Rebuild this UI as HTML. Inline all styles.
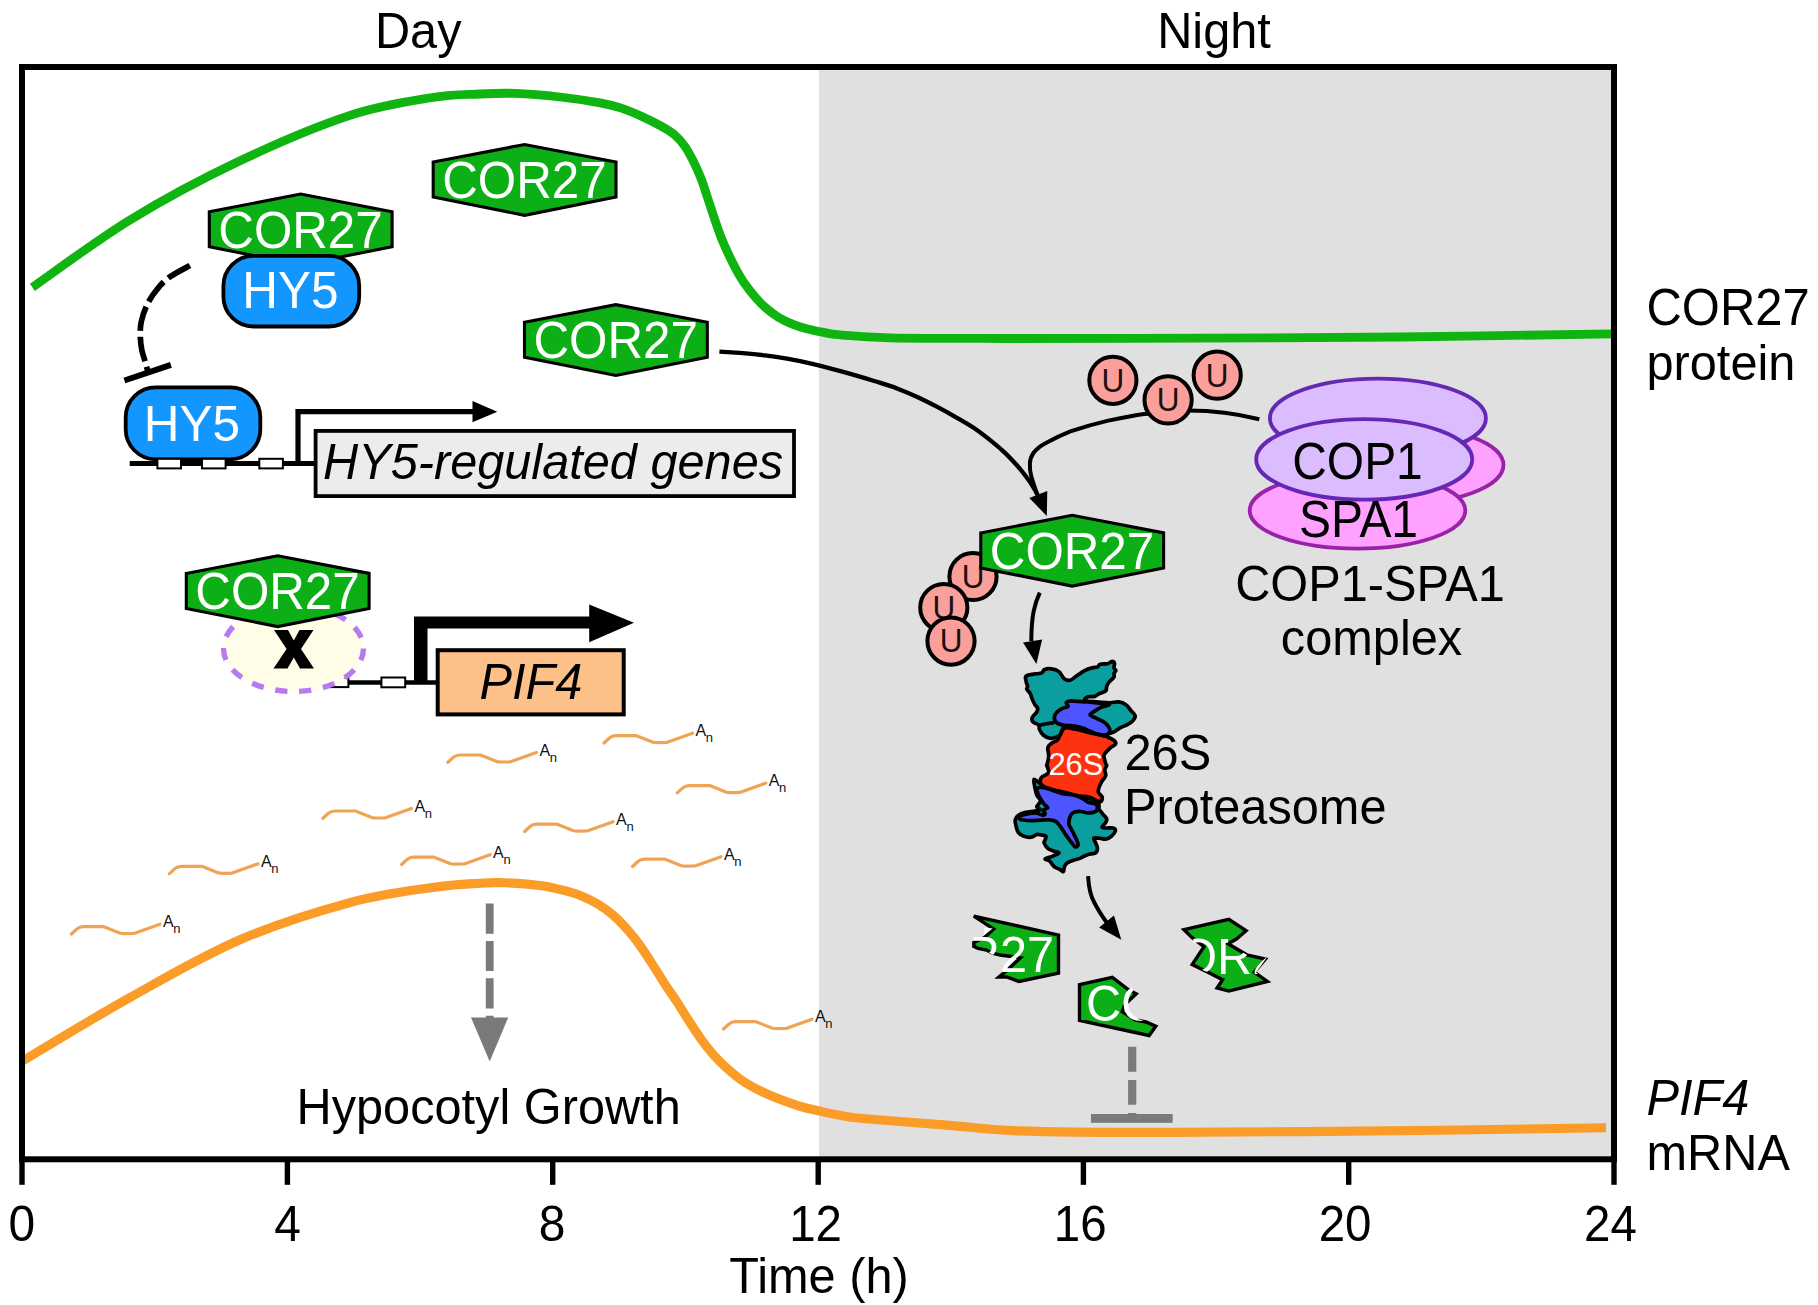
<!DOCTYPE html>
<html>
<head>
<meta charset="utf-8">
<title>COR27 diurnal model</title>
<style>
html,body{margin:0;padding:0;background:#fff;}
body{width:1818px;height:1305px;overflow:hidden;}
svg{display:block;}
text{font-family:"Liberation Sans",sans-serif;}
.t48{font-size:48.7px;fill:#000;}
.w48{font-size:48.7px;fill:#fff;}
.it{font-style:italic;}
.mid{text-anchor:middle;}
.hex{fill:#0cb016;stroke:#000;stroke-width:3.1;stroke-linejoin:miter;}
.hy5{fill:#1496ff;stroke:#000;stroke-width:3.8;}
.u{fill:#fa9f9a;stroke:#000;stroke-width:4;}
.ut{font-size:31.5px;fill:#1c1010;text-anchor:middle;}
.mr{fill:none;stroke:#efa455;stroke-width:3.2;stroke-linecap:round;stroke-linejoin:round;}
.an{font-size:16px;fill:#111;}
.ann{font-size:13px;fill:#111;}
.blk{fill:none;stroke:#000;}
.teal{fill:#0a9e9e;stroke:#000;stroke-width:3.7;stroke-linejoin:round;}
.blue{fill:#4c55ff;stroke:#000;stroke-width:3.7;stroke-linejoin:round;}
.red{fill:#ff3210;stroke:#000;stroke-width:3.7;stroke-linejoin:round;}
</style>
</head>
<body>
<svg width="1818" height="1305" viewBox="0 0 1818 1305">
<defs>
  <path id="hexp" d="M1.6,19.2 L93,1.6 L184.4,19.2 L184.4,54.2 L93,72.4 L1.6,54.2 Z"/>
  <g id="hex">
    <use href="#hexp" class="hex"/>
    <text class="w48 mid" x="0" y="0" transform="translate(92.8,55.1) scale(1.013,1.06)">COR27</text>
  </g>
  <g id="mrna">
    <path class="mr" d="M0,0 L5.5,-5 Q8,-7 12,-7.3 L32.5,-7.3 L49,-0.7 Q51,-0.2 54,-0.3 L62.5,-0.5 L88.5,-9.8"/>
    <text class="an" x="91.5" y="-6.6">A</text>
    <text class="ann" x="101.8" y="-0.8">n</text>
  </g>
  <g id="ucirc">
    <circle class="u" r="23.6"/>
    <text class="ut" x="0" y="0" transform="translate(0,11.3) scale(1,1.04)">U</text>
  </g>
  <clipPath id="cf1"><path d="M973.8,911.5 L1060.1,911.5 L1060.1,983.2 L1001.5,983.2 L1000.5,956.5 L992.4,954.8 L986.5,950.9 L973.8,949.6 Z"/></clipPath>
<clipPath id="cf2"><path d="M1076.1,971.1 L1116.0,971.1 L1133.2,989.5 L1129.8,1001.8 L1129.8,1007.9 L1132.5,1014.0 L1138.1,1019.0 L1147.3,1022.3 L1158.9,1026.3 L1149.7,1038.6 L1076.1,1023.2 Z"/></clipPath>
<clipPath id="cf3"><path d="M1193.3,936.2 L1228.1,936.2 L1228.1,943.8 L1246.7,954.8 L1266.8,957.6 L1256.1,972.4 L1267.4,981.4 L1228.8,991.1 L1217.1,988.0 L1222.6,979.7 L1207.4,972.1 L1202.6,970.0 L1197.8,954.8 L1204.0,946.6 L1193.3,942.4 Z"/></clipPath>
</defs>
<rect x="0" y="0" width="1818" height="1305" fill="#fff"/>
<rect x="819" y="67" width="795" height="1092" fill="#e0e0e0"/>
<path fill="none" stroke="#10b410" stroke-width="8.8" d="M32.4,287.3 C48.7,276.1 95.4,241.0 130.0,219.9 C164.6,198.8 203.3,178.2 240.0,160.8 C276.7,143.4 317.9,126.0 350.0,115.4 C382.1,104.9 410.8,101.1 432.5,97.5 C454.2,93.9 466.2,94.7 480.0,94.0 C493.8,93.3 501.7,92.9 515.0,93.4 C528.3,93.9 545.8,95.4 560.0,97.0 C574.2,98.6 589.9,101.0 600.0,102.8 C610.1,104.6 613.8,105.7 620.7,107.9 C627.6,110.1 634.5,113.1 641.4,116.2 C648.3,119.3 656.6,123.5 662.1,126.6 C667.6,129.7 670.7,131.5 674.5,134.8 C678.3,138.1 681.7,141.9 684.8,146.2 C687.9,150.5 690.3,155.2 693.1,160.7 C695.9,166.2 699.0,173.1 701.4,179.3 C703.8,185.5 705.5,191.7 707.6,197.9 C709.7,204.1 711.6,210.1 713.8,216.6 C716.0,223.1 718.6,231.0 721.0,237.2 C723.4,243.4 725.7,248.3 728.3,253.8 C730.9,259.3 733.9,265.3 736.6,270.3 C739.4,275.3 741.7,279.3 744.8,283.8 C747.9,288.3 751.8,293.2 755.2,297.2 C758.7,301.2 761.7,304.3 765.5,307.6 C769.3,310.9 773.4,314.1 777.9,316.9 C782.4,319.6 787.6,322.1 792.4,324.1 C797.2,326.1 801.7,327.3 806.9,328.7 C812.1,330.1 817.9,331.4 823.4,332.4 C828.9,333.4 828.9,334.0 840.0,334.9 C851.1,335.8 863.3,337.2 890.0,337.8 C916.7,338.4 948.3,338.4 1000.0,338.5 C1051.7,338.6 1133.3,338.4 1200.0,338.2 C1266.7,337.9 1331.2,337.7 1400.0,337.0 C1468.8,336.3 1577.5,334.3 1613.0,333.8"/>
<path fill="none" stroke="#fb9c28" stroke-width="9.1" d="M22.7,1060.8 C40.6,1050.2 93.8,1017.7 130.0,997.5 C166.2,977.3 203.3,955.6 240.0,939.8 C276.7,924.0 317.9,911.3 350.0,902.6 C382.1,893.9 410.8,890.7 432.5,887.5 C454.2,884.3 467.9,884.0 480.0,883.2 C492.1,882.4 495.0,882.4 505.0,882.8 C515.0,883.2 530.7,884.4 540.0,885.5 C549.3,886.6 553.8,888.0 560.7,889.7 C567.6,891.4 575.2,893.5 581.4,895.9 C587.6,898.3 592.7,901.0 597.9,904.1 C603.1,907.2 607.6,910.4 612.4,914.5 C617.2,918.6 622.4,924.0 626.9,929.0 C631.4,934.0 635.2,938.8 639.3,944.5 C643.4,950.2 647.6,956.7 651.7,963.1 C655.8,969.5 660.0,976.4 664.1,982.8 C668.2,989.2 672.5,995.0 676.6,1001.4 C680.8,1007.8 684.9,1014.6 689.0,1021.0 C693.1,1027.4 697.3,1034.0 701.4,1039.7 C705.5,1045.4 709.7,1050.6 713.8,1055.2 C717.9,1059.8 721.4,1063.3 726.2,1067.6 C731.0,1071.9 737.3,1077.2 742.8,1081.0 C748.3,1084.8 753.4,1087.4 759.3,1090.3 C765.1,1093.2 771.3,1096.0 777.9,1098.6 C784.5,1101.2 791.7,1103.8 798.6,1105.9 C805.5,1108.0 812.4,1109.5 819.3,1111.0 C826.2,1112.5 832.8,1114.0 840.0,1115.2 C847.2,1116.5 844.2,1116.8 862.5,1118.5 C880.8,1120.2 924.0,1123.3 950.0,1125.4 C976.0,1127.5 982.6,1129.7 1018.8,1130.9 C1055.0,1132.1 1096.8,1132.5 1167.0,1132.4 C1237.2,1132.3 1366.8,1131.1 1440.0,1130.3 C1513.2,1129.5 1578.3,1128.1 1606.0,1127.7"/>
<path class="blk" stroke-width="4.3" d="M719.4,351.7 C723.3,351.9 735.4,352.6 743.0,353.2 C750.6,353.8 757.7,354.5 765.0,355.4 C772.3,356.3 779.7,357.4 787.0,358.7 C794.3,360.0 801.7,361.5 809.0,363.1 C816.3,364.8 823.7,366.7 831.0,368.6 C838.3,370.5 845.7,372.5 853.0,374.6 C860.3,376.7 867.7,378.9 875.0,381.2 C882.3,383.5 889.8,385.7 897.0,388.4 C904.2,391.1 911.8,394.4 918.4,397.5 C925.0,400.6 930.7,403.5 936.8,406.7 C942.9,409.9 949.1,413.3 955.2,416.8 C961.3,420.3 967.5,423.7 973.6,427.8 C979.7,431.9 986.6,437.3 992.0,441.6 C997.4,445.9 1001.2,449.2 1005.8,453.6 C1010.4,458.1 1015.8,463.9 1019.6,468.3 C1023.4,472.8 1026.2,476.6 1028.8,480.3 C1031.4,484.0 1033.7,487.8 1035.2,490.4 C1036.7,493.0 1037.5,495.1 1038.0,496.0"/>
<path class="blk" stroke-width="4" d="M1259.3,419.3 C1235,413 1210,410.5 1188,410.5 C1170,410.5 1160,412 1144,414.1 C1131,416 1119,418.5 1107.2,420.9 C1094,424 1082,427.5 1070.4,431.3 C1061,435 1053,439 1045.9,442.9 C1040,446 1036,449.5 1033.6,452.8 C1031,456.5 1029.9,460 1029.9,463.8 C1029.7,468 1030.2,472 1031.2,476 C1032.4,480.5 1034,485 1037,494"/>
<path fill="#000" d="M1029.3,498.1 L1047.3,491 L1046.8,515.9 Z"/>
<ellipse cx="1396" cy="465" rx="107.5" ry="39.5" fill="#ffa2ff" stroke="#9a22a8" stroke-width="3.8"/>
<ellipse cx="1357.5" cy="510.6" rx="107.8" ry="38" fill="#ffa2ff" stroke="#9a22a8" stroke-width="3.8"/>
<ellipse cx="1377.9" cy="418.2" rx="108" ry="39.5" fill="#dbbcff" stroke="#6428b4" stroke-width="3.8"/>
<ellipse cx="1364.2" cy="459.4" rx="108" ry="40.3" fill="#dbbcff" stroke="#6428b4" stroke-width="3.8"/>
<text class="t48 mid" x="0" y="0" transform="translate(1357.5,478.8) scale(0.985,1.055)">COP1</text>
<text class="t48 mid" x="0" y="0" transform="translate(1358.5,537) scale(0.985,1.07)">SPA1</text>
<text class="t48 mid" x="0" y="0" transform="translate(1370.00,600.50) scale(1.0000,1.0400)">COP1-SPA1</text>
<text class="t48 mid" x="0" y="0" transform="translate(1371.50,655.00) scale(1.0000,1.0200)">complex</text>
<use href="#ucirc" x="1112.9" y="380.3"/>
<use href="#ucirc" x="1217.2" y="375.2"/>
<use href="#ucirc" x="1168.1" y="399.9"/>
<use href="#ucirc" x="973.0" y="576.5"/>
<use href="#ucirc" x="943.8" y="607.6"/>
<use href="#ucirc" x="951.0" y="641.1"/>
<use href="#hex" x="979.2" y="513.7"/>
<path class="blk" stroke-width="4" d="M1039.8,592.6 C1035,603 1031.4,614 1031.3,641"/>
<path fill="#000" d="M1023,642.5 L1042.1,639.4 L1036.4,663.9 Z"/>
<g id="prot"><path class="teal" d="M1026.7,675.7 C1029.2,674.2 1038.5,673.9 1041.4,672.9 C1044.3,671.9 1042.5,670.4 1044.1,669.7 C1045.8,669.0 1049.0,668.5 1051.5,668.8 C1053.9,669.1 1056.7,669.9 1058.9,671.6 C1061.0,673.2 1062.5,677.5 1064.4,678.9 C1066.2,680.4 1067.9,680.7 1069.9,680.3 C1071.9,679.8 1073.9,677.8 1076.3,676.1 C1078.8,674.5 1082.0,672.0 1084.6,670.6 C1087.2,669.3 1089.8,668.5 1092.0,667.9 C1094.1,667.3 1096.1,667.6 1097.5,667.0 C1098.9,666.3 1098.5,664.7 1100.2,664.2 C1101.9,663.7 1105.6,664.2 1107.6,663.7 C1109.6,663.3 1111.0,661.5 1112.2,661.4 C1113.3,661.4 1114.2,662.2 1114.5,663.3 C1114.8,664.3 1113.8,666.6 1114.0,667.9 C1114.3,669.1 1115.9,669.7 1115.9,670.6 C1115.9,671.6 1114.3,672.3 1114.0,673.4 C1113.7,674.5 1114.8,675.7 1114.0,677.1 C1113.3,678.4 1110.7,680.1 1109.4,681.7 C1108.2,683.2 1107.3,684.7 1106.7,686.3 C1106.1,687.8 1107.0,689.6 1105.7,690.9 C1104.5,692.1 1101.1,692.7 1099.3,693.6 C1097.5,694.5 1096.6,695.8 1094.7,696.4 C1092.9,696.9 1090.0,696.3 1088.3,696.8 C1086.6,697.4 1084.8,698.9 1084.6,699.6 C1084.4,700.3 1084.6,700.5 1087.4,701.0 C1090.1,701.4 1097.3,702.0 1101.1,702.4 C1105.0,702.7 1107.4,702.9 1110.3,702.8 C1113.3,702.7 1116.0,701.6 1118.6,701.9 C1121.2,702.2 1124.0,703.3 1126.0,704.7 C1128.0,706.0 1129.0,708.3 1130.6,710.2 C1132.1,712.0 1134.9,713.9 1135.2,715.7 C1135.5,717.5 1133.8,719.7 1132.4,721.2 C1131.0,722.7 1128.9,723.8 1126.9,724.9 C1124.9,726.0 1122.5,726.6 1120.5,727.6 C1118.5,728.7 1116.6,730.4 1114.9,731.3 C1113.3,732.2 1112.6,732.7 1110.3,733.2 C1108.0,733.6 1105.7,734.8 1101.1,734.1 C1096.6,733.3 1088.9,729.6 1082.8,728.6 C1076.6,727.5 1068.0,726.7 1064.4,727.6 C1060.7,728.6 1062.1,732.5 1060.7,734.1 C1059.3,735.7 1057.9,736.6 1056.1,737.3 C1054.3,738.0 1051.8,738.6 1049.7,738.2 C1047.5,737.8 1044.9,736.5 1043.2,735.0 C1041.5,733.5 1040.3,731.2 1039.5,729.5 C1038.8,727.8 1039.7,726.1 1038.6,724.9 C1037.5,723.7 1034.2,723.4 1033.1,722.1 C1032.0,720.9 1031.6,719.2 1032.2,717.5 C1032.8,715.8 1035.9,713.5 1036.8,712.0 C1037.7,710.5 1038.0,709.6 1037.7,708.3 C1037.4,707.1 1035.9,706.2 1034.9,704.7 C1034.0,703.1 1033.0,701.0 1032.2,699.1 C1031.4,697.3 1031.3,695.3 1030.3,693.6 C1029.4,691.9 1027.1,690.2 1026.7,689.0 C1026.2,687.8 1027.7,687.5 1027.6,686.3 C1027.5,685.0 1026.4,683.4 1026.2,681.7 C1026.1,679.9 1024.1,677.1 1026.7,675.7 Z"/>
<path class="teal" d="M1034.0,779.3 C1033.1,779.9 1034.5,785.0 1034.9,787.6 C1035.4,790.2 1035.9,792.8 1036.8,794.9 C1037.7,797.1 1040.2,798.9 1040.5,800.5 C1040.8,802.0 1039.2,803.1 1038.6,804.1 C1038.0,805.2 1036.5,806.0 1036.8,806.9 C1037.1,807.8 1040.8,809.0 1040.5,809.7 C1040.2,810.3 1037.4,810.6 1034.9,811.0 C1032.5,811.5 1028.5,811.7 1025.7,812.4 C1023.0,813.1 1020.2,813.9 1018.4,815.2 C1016.6,816.4 1015.6,817.9 1015.2,819.8 C1014.8,821.6 1015.6,824.1 1016.1,826.2 C1016.6,828.4 1017.1,831.0 1018.4,832.6 C1019.7,834.3 1021.8,835.6 1023.9,836.3 C1026.1,837.1 1029.1,837.5 1031.3,837.2 C1033.4,836.9 1035.1,834.9 1036.8,834.5 C1038.5,834.1 1039.8,834.6 1041.4,834.9 C1042.9,835.2 1045.4,835.5 1046.0,836.3 C1046.6,837.2 1045.4,838.9 1045.1,840.0 C1044.8,841.1 1043.7,841.4 1044.1,842.8 C1044.6,844.1 1046.3,846.9 1047.8,848.3 C1049.3,849.7 1051.5,850.3 1053.3,851.0 C1055.2,851.8 1059.2,852.0 1058.9,852.9 C1058.5,853.8 1053.8,855.6 1051.5,856.6 C1049.2,857.5 1045.4,858.1 1045.1,858.9 C1044.8,859.6 1048.1,859.8 1049.7,861.1 C1051.2,862.5 1052.6,865.3 1054.3,866.7 C1055.9,868.0 1058.2,868.6 1059.8,869.4 C1061.3,870.3 1062.7,872.2 1063.4,871.7 C1064.2,871.3 1063.8,868.1 1064.4,866.7 C1065.0,865.2 1065.6,864.1 1067.1,863.0 C1068.7,861.9 1071.4,861.0 1073.6,860.2 C1075.7,859.5 1077.7,859.3 1080.0,858.4 C1082.3,857.5 1084.8,855.6 1087.4,854.7 C1090.0,853.8 1093.9,853.9 1095.6,852.9 C1097.3,851.8 1097.5,850.0 1097.5,848.3 C1097.5,846.6 1096.2,844.4 1095.6,842.8 C1095.0,841.1 1093.2,838.9 1093.8,838.2 C1094.4,837.4 1097.3,838.0 1099.3,838.2 C1101.3,838.3 1103.8,839.4 1105.7,839.1 C1107.7,838.8 1109.7,837.7 1111.3,836.3 C1112.9,834.9 1115.1,832.2 1115.4,830.8 C1115.7,829.4 1114.7,828.5 1113.1,828.0 C1111.5,827.6 1107.6,828.2 1105.7,828.0 C1103.9,827.9 1102.1,828.0 1102.1,827.1 C1102.1,826.2 1105.0,823.9 1105.7,822.5 C1106.5,821.1 1107.1,820.2 1106.7,818.9 C1106.2,817.5 1104.2,815.8 1103.0,814.3 C1101.8,812.7 1100.0,811.0 1099.3,809.7 C1098.6,808.3 1099.2,807.4 1098.9,806.0 C1098.5,804.6 1100.2,802.9 1097.5,801.4 C1094.8,799.8 1088.3,798.3 1082.8,796.8 C1077.2,795.2 1070.5,793.9 1064.4,792.2 C1058.2,790.5 1050.0,788.0 1046.0,786.7 C1042.0,785.3 1042.5,785.1 1040.5,783.9 C1038.5,782.7 1034.9,778.7 1034.0,779.3 Z"/>
<path d="M1039.5,725.3 Q1046.0,723.5 1054.3,722.6" fill="none" stroke="#000" stroke-width="3.7"/>
<path class="blue" d="M1054.3,717.5 C1054.3,715.7 1055.6,713.5 1057.0,712.0 C1058.4,710.5 1060.7,709.3 1062.5,708.3 C1064.4,707.4 1067.4,707.4 1068.0,706.5 C1068.7,705.6 1065.9,703.7 1066.2,702.8 C1066.5,701.9 1067.9,701.2 1069.9,701.0 C1071.9,700.7 1075.2,701.3 1078.2,701.4 C1081.1,701.6 1083.5,701.6 1087.4,701.9 C1091.2,702.2 1097.5,702.8 1101.1,703.3 C1104.8,703.7 1109.4,704.0 1109.4,704.7 C1109.4,705.3 1103.6,706.3 1101.1,707.4 C1098.7,708.5 1096.6,709.9 1094.7,711.1 C1092.9,712.3 1089.8,713.5 1090.1,714.8 C1090.4,716.0 1094.3,717.2 1096.6,718.4 C1098.9,719.7 1101.9,720.7 1103.9,722.1 C1105.9,723.5 1107.5,725.2 1108.5,726.7 C1109.5,728.3 1110.3,729.9 1109.9,731.3 C1109.4,732.7 1107.8,734.5 1105.7,735.0 C1103.7,735.5 1100.1,734.7 1097.5,734.1 C1094.9,733.5 1092.6,732.3 1090.1,731.3 C1087.7,730.3 1085.5,729.0 1082.8,728.1 C1080.0,727.2 1076.6,726.3 1073.6,725.8 C1070.5,725.3 1067.1,725.8 1064.4,725.3 C1061.6,724.9 1058.7,724.3 1057.0,723.0 C1055.3,721.7 1054.3,719.4 1054.3,717.5 Z"/>
<path class="blue" d="M1036.8,788.5 C1037.9,787.6 1041.1,787.1 1044.1,787.6 C1047.2,788.0 1051.8,790.2 1055.2,791.3 C1058.5,792.3 1061.3,793.4 1064.4,794.0 C1067.4,794.6 1070.5,794.2 1073.6,794.9 C1076.6,795.7 1080.3,797.4 1082.8,798.6 C1085.2,799.8 1086.1,801.4 1088.3,802.3 C1090.4,803.2 1094.1,803.2 1095.6,804.1 C1097.2,805.1 1097.5,806.6 1097.5,807.8 C1097.5,809.0 1097.2,810.7 1095.6,811.5 C1094.1,812.3 1090.7,812.9 1088.3,812.9 C1085.8,812.9 1083.4,811.6 1080.9,811.5 C1078.5,811.4 1075.4,811.5 1073.6,812.4 C1071.7,813.3 1070.7,815.0 1069.9,817.0 C1069.1,819.0 1068.8,822.5 1069.0,824.4 C1069.1,826.2 1070.0,826.5 1070.8,828.0 C1071.6,829.6 1072.6,831.7 1073.6,833.6 C1074.5,835.4 1075.6,837.2 1076.3,839.1 C1077.1,840.9 1078.3,843.3 1078.2,844.6 C1078.0,845.9 1076.5,847.2 1075.4,846.9 C1074.3,846.6 1073.3,844.7 1071.7,842.8 C1070.2,840.8 1068.0,838.0 1066.2,835.4 C1064.4,832.8 1062.4,829.4 1060.7,827.1 C1059.0,824.8 1057.9,822.8 1056.1,821.6 C1054.3,820.4 1052.3,820.0 1049.7,819.8 C1047.0,819.5 1043.7,820.1 1040.5,820.2 C1037.2,820.4 1033.6,820.8 1030.3,820.7 C1027.1,820.6 1023.1,820.4 1021.1,819.8 C1019.2,819.2 1017.9,817.9 1018.4,817.0 C1018.9,816.2 1021.1,815.4 1023.9,814.7 C1026.7,814.0 1031.7,812.8 1034.9,812.9 C1038.2,813.0 1041.5,815.1 1043.2,815.2 C1044.9,815.2 1045.1,814.2 1045.1,813.3 C1045.1,812.5 1042.8,811.0 1043.2,810.1 C1043.7,809.2 1047.7,808.8 1047.8,807.8 C1048.0,806.8 1045.4,805.7 1044.1,804.1 C1042.9,802.6 1041.5,800.5 1040.5,798.6 C1039.4,796.8 1038.3,794.8 1037.7,793.1 C1037.1,791.4 1035.7,789.4 1036.8,788.5 Z"/>
<path class="red" d="M1064.4,728.1 C1066.5,726.9 1069.6,728.1 1072.6,728.6 C1075.7,729.0 1078.6,729.9 1082.8,730.9 C1086.9,731.9 1093.0,733.4 1097.5,734.5 C1101.9,735.7 1106.4,736.3 1109.4,737.8 C1112.5,739.2 1115.7,741.6 1115.9,743.3 C1116.0,745.0 1112.0,746.3 1110.3,747.9 C1108.7,749.4 1106.8,751.1 1105.7,752.5 C1104.7,753.9 1103.9,754.3 1103.9,756.1 C1103.9,758.0 1105.3,761.9 1105.7,763.5 C1106.2,765.1 1106.8,764.4 1106.7,765.5 C1106.5,766.6 1105.0,768.4 1104.8,770.1 C1104.7,771.8 1106.2,773.8 1105.7,775.6 C1105.3,777.5 1103.1,779.3 1102.1,781.1 C1101.0,783.0 1099.9,784.8 1099.3,786.7 C1098.7,788.5 1097.9,790.5 1098.4,792.2 C1098.9,793.9 1101.6,795.2 1102.1,796.8 C1102.5,798.3 1102.1,800.8 1101.1,801.4 C1100.2,802.0 1098.7,801.2 1096.6,800.5 C1094.4,799.7 1091.3,797.5 1088.3,796.8 C1085.2,796.0 1082.1,796.6 1078.2,795.9 C1074.2,795.1 1068.2,793.1 1064.4,792.2 C1060.5,791.3 1058.5,791.3 1055.2,790.3 C1051.8,789.4 1046.6,787.9 1044.1,786.7 C1041.7,785.4 1040.9,784.5 1040.5,783.0 C1040.0,781.5 1040.5,778.9 1041.4,777.5 C1042.3,776.1 1044.8,775.6 1046.0,774.7 C1047.2,773.8 1048.6,773.5 1048.7,772.0 C1048.9,770.4 1047.2,766.6 1046.9,765.5 C1046.6,764.4 1046.6,766.9 1046.9,765.3 C1047.2,763.8 1048.6,759.1 1048.7,756.1 C1048.9,753.2 1047.4,750.0 1047.8,747.9 C1048.3,745.7 1050.0,744.5 1051.5,743.3 C1053.0,742.0 1055.6,741.7 1057.0,740.5 C1058.4,739.3 1058.5,738.0 1059.8,735.9 C1061.0,733.9 1062.2,729.3 1064.4,728.1 Z"/>
<text x="0" y="0" text-anchor="middle" transform="translate(1075.8,775.4) scale(1,1.04)" style="font-size:30.8px;fill:#fff">26S</text></g>
<text class="t48" x="0" y="0" transform="translate(1124.50,769.70) scale(1.0000,1.0400)">26S</text>
<text class="t48" x="0" y="0" transform="translate(1124.00,824.30) scale(1.0000,1.0300)">Proteasome</text>
<path class="blk" stroke-width="4" d="M1088.1,876.1 C1088.6,886 1090.5,896 1094.5,902.9 C1098,910 1102,916 1107,923"/>
<path fill="#000" d="M1099.1,927.4 L1114,915.6 L1121.3,939.7 Z"/>
<path class="hex" style="stroke-width:3.4;stroke-linejoin:miter" d="M973.8,916.1 L1058.5,935.0 L1058.5,973.1 L1019.1,981.5 L1006.7,977.0 L998.9,977.0 L1007.3,970.1 L1020.4,957.8 L1011.9,956.5 L1001.5,955.2 L993.0,953.5 L986.5,950.0 L978.0,948.3 L973.8,946.4 L973.8,942.5 L984.5,937.6 L993.7,929.1 Z"/>
<path fill="#fff" d="M984.5,927.5 L992.7,928.6 L983.6,935.5 Z"/>
<g clip-path="url(#cf1)"><text class="w48" x="0" y="0" transform="translate(891.8,972.2) scale(1,1.030)">COR27</text></g>
<path class="hex" style="stroke-width:3.4;stroke-linejoin:miter" d="M1079.5,984.6 L1112.3,977.3 L1128.2,989.5 L1136.2,993.8 L1130.4,999.3 L1125.2,1004.2 L1122.1,1011.6 L1128.9,1015.9 L1135.0,1019.9 L1146.0,1022.0 L1155.8,1026.3 L1149.1,1035.5 L1079.5,1020.5 Z"/>
<g clip-path="url(#cf2)"><text class="w48" x="0" y="0" transform="translate(1086.0,1020.8) scale(1,1.020)">COR27</text></g>
<path class="hex" style="stroke-width:3.4;stroke-linejoin:miter" d="M1184.0,929.7 L1228.8,919.3 L1246.1,930.7 L1236.4,939.0 L1228.1,943.8 L1246.7,954.8 L1265.4,959.0 L1254.3,972.1 L1267.4,981.4 L1228.8,991.1 L1217.1,988.0 L1222.6,979.7 L1207.4,972.1 L1192.2,964.5 L1204.0,946.6 L1192.2,937.6 Z"/>
<g clip-path="url(#cf3)"><text class="w48" x="0" y="0" transform="translate(1144.0,973.6) scale(1,1.010)">COR27</text></g>
<path d="M1132.2,1046.8 L1132.2,1118" fill="none" stroke="#7a7a7a" stroke-width="8.2" stroke-dasharray="24.9 8.2"/>
<rect x="1091" y="1114" width="81.7" height="8.8" fill="#7a7a7a"/>
<use href="#mrna" x="447.9" y="762.3"/>
<use href="#mrna" x="604.0" y="743.0"/>
<use href="#mrna" x="677.3" y="792.9"/>
<use href="#mrna" x="322.9" y="818.3"/>
<use href="#mrna" x="524.6" y="831.5"/>
<use href="#mrna" x="169.5" y="873.6"/>
<use href="#mrna" x="401.6" y="864.5"/>
<use href="#mrna" x="632.5" y="866.5"/>
<use href="#mrna" x="71.4" y="934.0"/>
<use href="#mrna" x="723.5" y="1029.0"/>
<path d="M489.7,903.5 L489.7,1020" fill="none" stroke="#7a7a7a" stroke-width="7.8" stroke-dasharray="30.2 7.2"/>
<path fill="#7a7a7a" d="M471,1017.6 L508.2,1017.6 L489.7,1061.6 Z"/>
<text class="t48" x="0" y="0" transform="translate(296.50,1124.40) scale(1.0000,1.0350)">Hypocotyl Growth</text>
<use href="#hex" x="431.6" y="142.9"/>
<use href="#hex" x="207.7" y="192.5"/>
<use href="#hex" x="522.9" y="303.1"/>
<rect class="hy5" x="223.4" y="255.9" width="135.8" height="70.6" rx="30" ry="30"/>
<text class="w48 mid" x="0" y="0" transform="translate(290.4,308) scale(1.015,1.07)">HY5</text>
<path class="blk" stroke-width="5.7" stroke-dasharray="25 5.8" d="M189.9,265.5 C186.2,267.6 173.8,273.8 168.0,278.2 C162.2,282.6 158.6,287.4 155.0,292.0 C151.4,296.6 148.8,301.0 146.5,306.0 C144.2,311.0 142.2,317.0 141.2,322.0 C140.2,327.0 140.2,331.3 140.3,336.0 C140.4,340.7 141.0,345.8 141.8,350.0 C142.6,354.2 144.1,357.8 145.1,361.5 C146.1,365.2 147.5,370.2 148.0,372.0"/>
<path class="blk" stroke-width="5.9" d="M124.4,380.5 L170.9,364.9"/>
<path class="blk" stroke-width="5" d="M129.7,463.5 L316,463.5"/>
<rect class="hy5" x="125.7" y="387.3" width="134.6" height="72" rx="30" ry="30"/>
<text class="w48 mid" x="0" y="0" transform="translate(191.8,440.6) scale(1.015,1.03)">HY5</text>
<rect x="157.4" y="458.8" width="23.6" height="9.6" fill="#fff" stroke="#000" stroke-width="2"/>
<rect x="202.0" y="458.8" width="23.6" height="9.6" fill="#fff" stroke="#000" stroke-width="2"/>
<rect x="259.3" y="458.8" width="23.6" height="9.6" fill="#fff" stroke="#000" stroke-width="2"/>
<path class="blk" stroke-width="5.2" d="M298,463.5 L298,411.7 L474,411.7"/>
<path fill="#000" d="M472.5,401 L497.3,411.7 L472.5,422.3 Z"/>
<rect x="315.6" y="430.9" width="478.4" height="65.2" fill="#ececec" stroke="#000" stroke-width="3.8"/>
<text class="t48 it" x="0" y="0" transform="translate(323.00,478.70) scale(1.0000,1.0300)">HY5-regulated genes</text>
<path class="blk" stroke-width="4.4" d="M345,682.5 L437,682.5"/>
<rect x="326" y="677.5" width="22.4" height="9.6" fill="#fff" stroke="#000" stroke-width="2"/>
<rect x="381.4" y="677.5" width="23.8" height="9.8" fill="#fff" stroke="#000" stroke-width="2"/>
<ellipse cx="293.5" cy="648.5" rx="70" ry="43" fill="#fffde8" stroke="#b67bee" stroke-width="5.4" stroke-dasharray="12.2 11.8"/>
<use href="#hex" x="184.7" y="554.2"/>
<path fill="#000" d="M274,630 L288,630 L293.8,640.5 L299.5,630 L313.5,630 L301,649 L314,668.5 L300,668.5 L293.8,657.5 L287.5,668.5 L273.5,668.5 L286.6,649 Z"/>
<path fill="#000" d="M414,682.5 L414,616.4 L589.2,616.4 L589.2,604.6 L634,622.8 L589.2,642.2 L589.2,628.6 L427.5,628.6 L427.5,682.5 Z"/>
<rect x="437.7" y="650.2" width="186" height="64.2" fill="#fdc088" stroke="#000" stroke-width="4"/>
<text class="t48 it mid" x="0" y="0" transform="translate(531.00,698.80) scale(1.0000,1.0400)">PIF4</text>
<rect x="22" y="67" width="1592" height="1092.3" fill="none" stroke="#000" stroke-width="6"/>
<rect x="19.3" y="1159" width="5.4" height="25.8" fill="#000"/>
<rect x="284.7" y="1159" width="5.4" height="25.8" fill="#000"/>
<rect x="550.0" y="1159" width="5.4" height="25.8" fill="#000"/>
<rect x="815.5" y="1159" width="5.4" height="25.8" fill="#000"/>
<rect x="1080.7" y="1159" width="5.4" height="25.8" fill="#000"/>
<rect x="1346.0" y="1159" width="5.4" height="25.8" fill="#000"/>
<rect x="1611.3" y="1159" width="5.4" height="25.8" fill="#000"/>
<text class="t48 mid" x="0" y="0" transform="translate(21.80,1240.90) scale(0.9850,1.0200)">0</text>
<text class="t48 mid" x="0" y="0" transform="translate(287.60,1240.90) scale(0.9850,1.0200)">4</text>
<text class="t48 mid" x="0" y="0" transform="translate(552.00,1240.90) scale(0.9850,1.0200)">8</text>
<text class="t48 mid" x="0" y="0" transform="translate(815.60,1240.90) scale(0.9750,1.0200)">12</text>
<text class="t48 mid" x="0" y="0" transform="translate(1080.20,1240.90) scale(0.9750,1.0200)">16</text>
<text class="t48 mid" x="0" y="0" transform="translate(1345.10,1240.90) scale(0.9750,1.0200)">20</text>
<text class="t48 mid" x="0" y="0" transform="translate(1610.50,1240.90) scale(0.9750,1.0200)">24</text>
<text class="t48 mid" x="0" y="0" transform="translate(819.00,1293.30) scale(1.0000,1.0300)">Time (h)</text>
<text class="t48 mid" x="0" y="0" transform="translate(418.20,47.70) scale(1.0000,1.0300)">Day</text>
<text class="t48 mid" x="0" y="0" transform="translate(1214.00,47.80) scale(1.0000,1.0300)">Night</text>
<text class="t48" x="0" y="0" transform="translate(1646.50,325.30) scale(1.0050,1.0750)">COR27</text>
<text class="t48" x="0" y="0" transform="translate(1646.50,379.60) scale(1.0000,1.0300)">protein</text>
<text class="t48 it" x="0" y="0" transform="translate(1646.50,1114.60) scale(1.0000,1.0400)">PIF4</text>
<text class="t48" x="0" y="0" transform="translate(1646.50,1169.60) scale(1.0000,1.0400)">mRNA</text>
</svg>
</body>
</html>
